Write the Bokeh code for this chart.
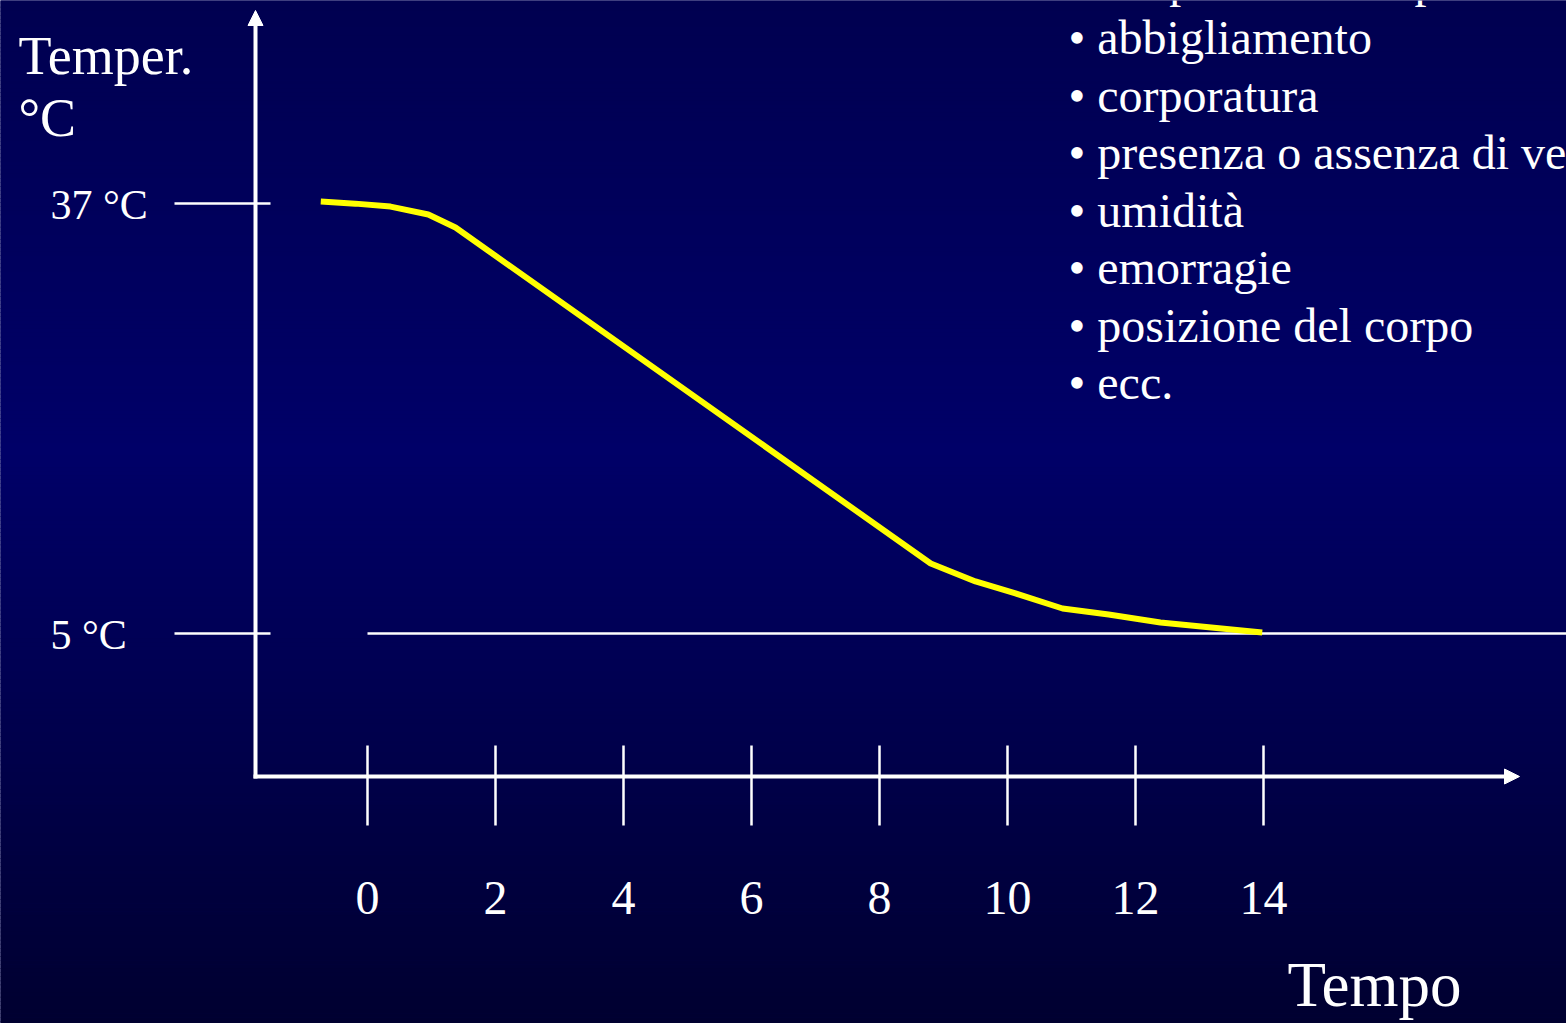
import numpy as np
from bokeh.plotting import figure
from bokeh.models import Range1d, Arrow, NormalHead
from bokeh.core.properties import value
from bokeh.embed import file_html
from bokeh.resources import INLINE

# ---------------- data ----------------
time_h = [-0.73, -0.19, 0.36, 0.95, 1.375, 8.80, 9.50, 10.125, 10.86, 11.58, 12.39, 13.98]
temp_c = [37.14, 36.99, 36.77, 36.18, 35.21, 10.21, 8.87, 7.98, 6.86, 6.41, 5.82, 5.07]
x_ticks = [0, 2, 4, 6, 8, 10, 12, 14]
x_tick_labels = ["0", "2", "4", "6", "8", "10", "12", "14"]
y_ticks = [37, 5]
y_tick_labels = ["37 °C", "5 °C"]
y_title = ["Temper.", "°C"]
x_title = "Tempo"
factors = ["temperatura e superficie d'appoggio", "abbigliamento", "corporatura",
           "presenza o assenza di vento", "umidità", "emorragie",
           "posizione del corpo", "ecc."]

# ---------------- layout (pixel -> data) ----------------
W, H = 1566, 1023
X0_PX, PX_PER_X = 367.0, 64.0
Y5_PX, PX_PER_Y = 633.0, 430.0 / 32.0
BASE_FIX = 0.37  # em correction for baseline placement


def xd(px):
    return (px - X0_PX) / PX_PER_X


def yd(py):
    return 5.0 + (Y5_PX - py) / PX_PER_Y


def yb(py, size):
    """data y for a text baseline at pixel py for font size (px)"""
    return yd(py - BASE_FIX * size)


FONT = value("Liberation Serif")

p = figure(width=W, height=H, x_range=Range1d(xd(0), xd(W)), y_range=Range1d(yd(H), yd(0)),
           output_backend="svg", toolbar_location=None, min_border=0,
           x_axis_location=None, y_axis_location=None)
p.grid.visible = False
p.outline_line_color = None
p.background_fill_color = "#000060"
p.border_fill_color = "#000060"

# background gradient as thin horizontal bands
n_bands = 256
edges_px = np.linspace(-10, H + 10, n_bands + 1)
mids_px = 0.5 * (edges_px[:-1] + edges_px[1:])
blue = np.interp(mids_px, [0, 450, 1023], [80, 104, 48]).round().astype(int)
band_colors = ["#0000%02x" % b for b in blue]
p.quad(left=[xd(-10)] * n_bands, right=[xd(W + 10)] * n_bands,
       top=[yd(e) for e in edges_px[:-1]], bottom=[yd(e + 0.6) for e in edges_px[1:]],
       fill_color=band_colors, line_color=None)

# axes with arrows
AX_X = xd(255)
AX_Y = yd(776)
p.add_layout(Arrow(end=NormalHead(size=15, fill_color="white", line_color="white", line_width=1),
                   x_start=AX_X, y_start=yd(778), x_end=AX_X, y_end=yd(10),
                   line_color="white", line_width=4))
p.add_layout(Arrow(end=NormalHead(size=15, fill_color="white", line_color="white", line_width=1),
                   x_start=xd(253), y_start=AX_Y, x_end=xd(1519), y_end=AX_Y,
                   line_color="white", line_width=4))

# ticks
p.segment(x0=x_ticks, y0=[yd(745)] * len(x_ticks), x1=x_ticks, y1=[yd(825)] * len(x_ticks),
          line_color="white", line_width=2.5)
p.segment(x0=[xd(174)] * len(y_ticks), y0=y_ticks, x1=[xd(270)] * len(y_ticks), y1=y_ticks,
          line_color="white", line_width=2.5)

# 5 °C reference line
p.segment(x0=[min(x_ticks)], y0=[min(y_ticks)], x1=[xd(W + 20)], y1=[min(y_ticks)],
          line_color="white", line_width=2.5)

# cooling curve
p.line(time_h, temp_c, line_color="#FFFF00", line_width=6)

# tick labels
p.text(x=x_ticks, y=[yb(915, 48)] * len(x_ticks), text=x_tick_labels, text_align="center",
       text_baseline="alphabetic", text_font=FONT, text_font_size="48px", text_color="white")
p.text(x=[xd(50)] * len(y_ticks), y=[t - (17.0 - BASE_FIX * 42) / PX_PER_Y for t in y_ticks],
       text=y_tick_labels, text_align="left", text_baseline="alphabetic", text_font=FONT,
       text_font_size="42px", text_color="white")

# axis titles
p.text(x=[xd(18), xd(18)], y=[yb(75, 54), yb(137, 54)], text=y_title, text_align="left",
       text_baseline="alphabetic", text_font=FONT, text_font_size="54px", text_color="white")
p.text(x=[xd(1287)], y=[yb(1008, 63)], text=[x_title], text_align="left",
       text_baseline="alphabetic", text_font=FONT, text_font_size="63px", text_color="white")

# factor list
n = len(factors)
p.text(x=[xd(1068)] * n, y=[yb(-2.5 + 57.5 * i, 48) for i in range(n)],
       text=["• " + f for f in factors], text_align="left", text_baseline="alphabetic",
       text_font=FONT, text_font_size="48px", text_color="white")

open("out.html", "w").write(file_html(p, INLINE))
